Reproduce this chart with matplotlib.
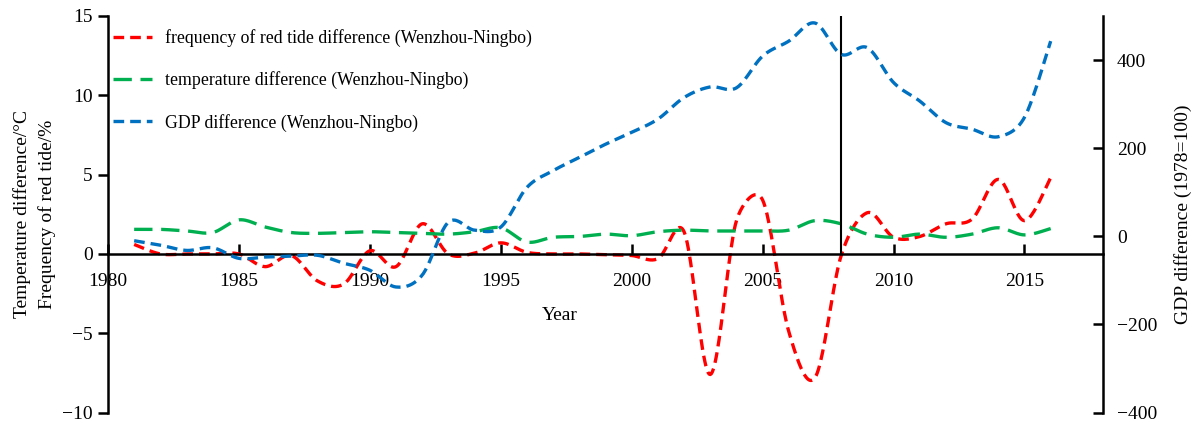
import numpy as np
import matplotlib
matplotlib.use("Agg")
import matplotlib.pyplot as plt

plt.rcParams['font.family'] = ['Liberation Serif', 'DejaVu Serif']

years = list(range(1981, 2017))

# Red-tide frequency difference (Wenzhou - Ningbo), %
red_tide_diff = [0.6, 0.0, 0.0, 0.0, 0.0, -0.8, -0.1, -1.7, -1.9, 0.2,
                 -0.8, 1.9, 0.0, 0.05, 0.7, 0.1, 0.0, 0.0, -0.05, -0.1,
                 -0.3, 1.4, -7.6, 2.1, 3.4, -4.9, -7.8, -0.1, 2.6, 1.05,
                 1.1, 1.9, 2.2, 4.7, 2.1, 4.8]

# Temperature difference (Wenzhou - Ningbo), degC
temp_diff = [1.55, 1.55, 1.45, 1.35, 2.15, 1.7, 1.35, 1.3, 1.35, 1.4,
             1.35, 1.3, 1.25, 1.4, 1.65, 0.75, 1.05, 1.1, 1.25, 1.15,
             1.4, 1.5, 1.45, 1.45, 1.45, 1.5, 2.1, 1.9, 1.25, 1.05,
             1.25, 1.05, 1.25, 1.65, 1.2, 1.6]

# GDP difference (Wenzhou - Ningbo), 1978 = 100
gdp_diff = [-10, -20, -32, -26, -50, -47, -45, -43, -61, -77,
            -115, -88, 32, 14, 21, 111, 149, 179, 209, 236,
            266, 315, 339, 337, 409, 443, 484, 413, 428, 349,
            307, 258, 243, 226, 270, 443]

labels = ["frequency of red tide difference (Wenzhou-Ningbo)",
          "temperature difference (Wenzhou-Ningbo)",
          "GDP difference (Wenzhou-Ningbo)"]
colors = ["#FF0000", "#00B050", "#0070C0"]
x_ticks = [1980, 1985, 1990, 1995, 2000, 2005, 2010, 2015]
left_ticks = [-10, -5, 0, 5, 10, 15]
right_ticks = [-400, -200, 0, 200, 400]
policy_year = 2008


def smooth_display(axis, x, y, n=24):
    """Smoothed line: cubic Bezier segments built in screen space, control
    arms at 1/6 of the neighbour chord, capped at half the segment length."""
    pts = axis.transData.transform(np.column_stack([x, y]))
    m = len(pts)
    out = []
    t = np.linspace(0, 1, n, endpoint=False)[:, None]
    for i in range(m - 1):
        p1, p2 = pts[i], pts[i + 1]
        p0 = pts[i - 1] if i > 0 else p1
        p3 = pts[i + 2] if i + 2 < m else p2
        d12 = np.hypot(*(p2 - p1))
        d02 = np.hypot(*(p2 - p0))
        d13 = np.hypot(*(p3 - p1))
        f1 = 1.0 / 6.0
        f2 = 1.0 / 6.0
        if d02 / 6.0 >= d12 / 2.0 and d02 > 0:
            f1 = d12 / d02 / 2.0
        if d13 / 6.0 >= d12 / 2.0 and d13 > 0:
            f2 = d12 / d13 / 2.0
        c1 = p1 + (p2 - p0) * f1
        c2 = p2 - (p3 - p1) * f2
        seg = ((1 - t) ** 3 * p1 + 3 * (1 - t) ** 2 * t * c1
               + 3 * (1 - t) * t ** 2 * c2 + t ** 3 * p2)
        out.append(seg)
    out.append(pts[-1][None, :])
    curve = axis.transData.inverted().transform(np.vstack(out))
    return curve[:, 0], curve[:, 1]


fig = plt.figure(figsize=(11.93, 4.21), dpi=100)
ax = fig.add_axes([0.0905, 0.02, 0.8341, 0.942])
ax2 = ax.twinx()

ax.set_xlim(1980, 2018)
ax.set_ylim(-10, 15)
ax2.set_ylim(-400, 500)

lw = 2.4
xr, yr = smooth_display(ax, years, red_tide_diff)
l1, = ax.plot(xr, yr, color=colors[0], lw=lw, dashes=(3.2, 1.8), label=labels[0])
xt, yt = smooth_display(ax, years, temp_diff)
l2, = ax.plot(xt, yt, color=colors[1], lw=lw, dashes=(5.5, 2.6), label=labels[1])
xg, yg = smooth_display(ax2, years, gdp_diff)
l3, = ax2.plot(xg, yg, color=colors[2], lw=lw, dashes=(3.2, 1.8), label=labels[2])

ax.vlines(policy_year, 0, 15, color="black", lw=1.5)

ax.set_xticks(x_ticks)
ax.set_yticks(left_ticks)
ax.set_yticklabels([str(v).replace('-', '\u2212') for v in left_ticks])
ax2.set_yticks(right_ticks)
ax2.set_yticklabels([str(v).replace('-', '\u2212') for v in right_ticks])

for a in (ax, ax2):
    a.spines['top'].set_visible(False)
    a.patch.set_visible(False)
ax.spines['right'].set_visible(False)
ax2.spines['left'].set_visible(False)
ax2.spines['bottom'].set_visible(False)
ax.spines['bottom'].set_position(('data', 0))
for s in ('left', 'bottom'):
    ax.spines[s].set_linewidth(1.8)
ax2.spines['right'].set_linewidth(1.8)

ax.tick_params(axis='x', direction='in', length=7, width=1.8, labelsize=14, pad=14)
ax.tick_params(axis='y', direction='out', length=7, width=1.8, labelsize=14, pad=4)
ax2.tick_params(axis='y', direction='in', length=7, width=1.8, labelsize=14, pad=10)

ax.set_xlabel("Year", fontsize=14)
ax.xaxis.set_label_coords(0.454, 0.265)
ax.set_ylabel("Temperature difference/\u00b0C\nFrequency of red tide/%", fontsize=14,
              linespacing=1.5)
ax.yaxis.set_label_coords(-0.052, 0.5)
ax2.set_ylabel("GDP difference (1978=100)", fontsize=14, labelpad=12)

ax.legend(handles=[l1, l2, l3], loc='upper left', frameon=False, fontsize=12.8,
          handlelength=2.2, handletextpad=0.73, labelspacing=1.37,
          bbox_to_anchor=(-0.002, 0.985), borderaxespad=0.0)

fig.savefig("out.png", dpi=100)
